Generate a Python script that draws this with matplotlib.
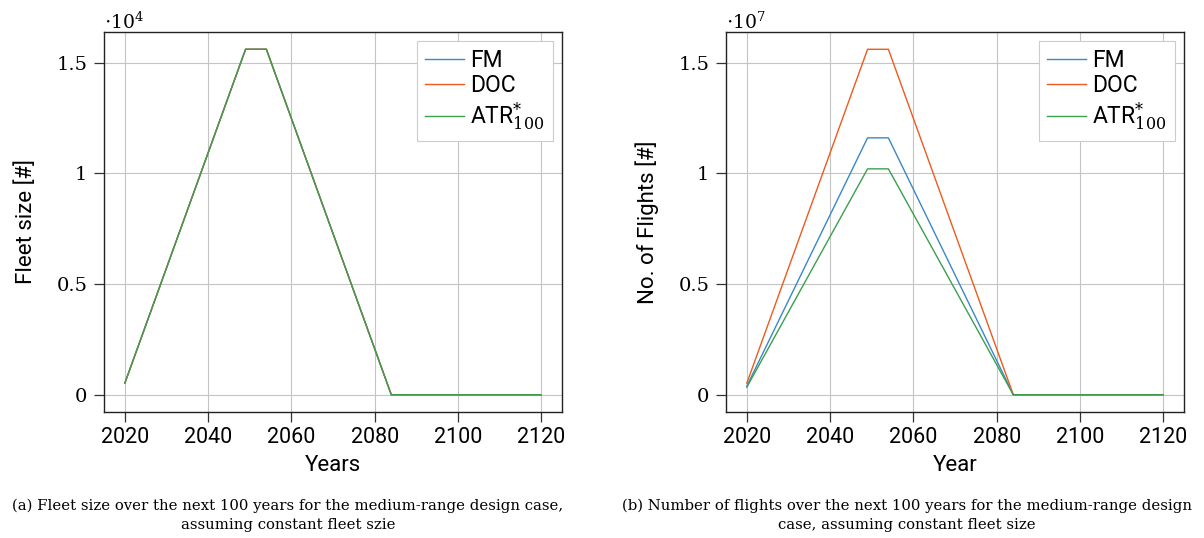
import matplotlib.pyplot as plt
from matplotlib.ticker import FixedLocator, FixedFormatter

plt.rcParams['font.family'] = ['Roboto', 'DejaVu Sans']
plt.rcParams['mathtext.fontset'] = 'dejavuserif'

# breakpoints of the piecewise linear curves
years = [2020, 2049, 2054, 2084, 2120]

# fleet size (all three cases identical)
fleet_fm = [520, 15600, 15600, 0, 0]
fleet_doc = [520, 15600, 15600, 0, 0]
fleet_atr = [520, 15600, 15600, 0, 0]

# number of flights
flights_fm = [387000, 11600000, 11600000, 0, 0]
flights_doc = [520000, 15600000, 15600000, 0, 0]
flights_atr = [340000, 10200000, 10200000, 0, 0]

labels = ['FM', 'DOC', r'ATR$^{*}_{100}$']
colors = ['#3b87c8', '#ee5a1c', '#3a9f4e']
x_ticks = [2020, 2040, 2060, 2080, 2100, 2120]
y_ticks = [0, 0.5, 1, 1.5]
y_tick_labels = ['0', '0.5', '1', '1.5']

fig = plt.figure(figsize=(12.04, 5.38), dpi=100)
ax1 = fig.add_axes([104 / 1204, 126 / 538, 458 / 1204, 380 / 538])
ax2 = fig.add_axes([726 / 1204, 126 / 538, 458 / 1204, 380 / 538])


def style(ax, series, scale, exp, ylabel, xlabel):
    for vals, lab, col in zip(series, labels, colors):
        ax.plot(years, vals, color=col, lw=1.0, label=lab)
    ax.set_xlim(2015, 2125)
    ax.set_ylim(-0.05 * 1.56 * scale, 1.05 * 1.56 * scale)
    ax.xaxis.set_major_locator(FixedLocator(x_ticks))
    ax.yaxis.set_major_locator(FixedLocator([t * scale for t in y_ticks]))
    ax.yaxis.set_major_formatter(FixedFormatter(y_tick_labels))
    ax.grid(True, color='#c4c4c4', lw=0.8)
    ax.set_axisbelow(True)
    ax.tick_params(direction='out', length=7, width=0.9, color='#333333',
                   labelsize=15.5, pad=4)
    ax.tick_params(axis='y', pad=5)
    for t in ax.get_yticklabels():
        t.set_fontfamily('DejaVu Serif')
        t.set_fontsize(14)
    for s in ax.spines.values():
        s.set_color('#222222')
        s.set_linewidth(1.0)
    ax.set_ylabel(ylabel, fontsize=16, labelpad=14)
    ax.set_xlabel(xlabel, fontsize=16, labelpad=5)
    ax.text(0.0, 0.998, r'$\cdot 10^{%d}$' % exp, transform=ax.transAxes,
            fontsize=13.5, ha='left', va='bottom')
    leg = ax.legend(loc='upper right', fontsize=16.5, fancybox=False,
                    framealpha=1, edgecolor='#cccccc', borderaxespad=0.4,
                    handlelength=1.7, handletextpad=0.3, labelspacing=0.1,
                    borderpad=0.35)
    leg.get_frame().set_linewidth(0.8)


style(ax1, [fleet_fm, fleet_doc, fleet_atr], 1e4, 4, 'Fleet size [#]', 'Years')
style(ax2, [flights_fm, flights_doc, flights_atr], 1e7, 7,
      'No. of Flights [#]', 'Year')

cap = dict(fontfamily='DejaVu Serif', fontsize=10.7, ha='center', va='center')
fig.text(288 / 1204, 1 - 506 / 538,
         '(a) Fleet size over the next 100 years for the medium-range design case,', **cap)
fig.text(288 / 1204, 1 - 525 / 538, 'assuming constant fleet szie', **cap)
fig.text(907 / 1204, 1 - 506 / 538,
         '(b) Number of flights over the next 100 years for the medium-range design', **cap)
fig.text(907 / 1204, 1 - 525 / 538, 'case, assuming constant fleet size', **cap)

fig.savefig('out.png', dpi=100)
